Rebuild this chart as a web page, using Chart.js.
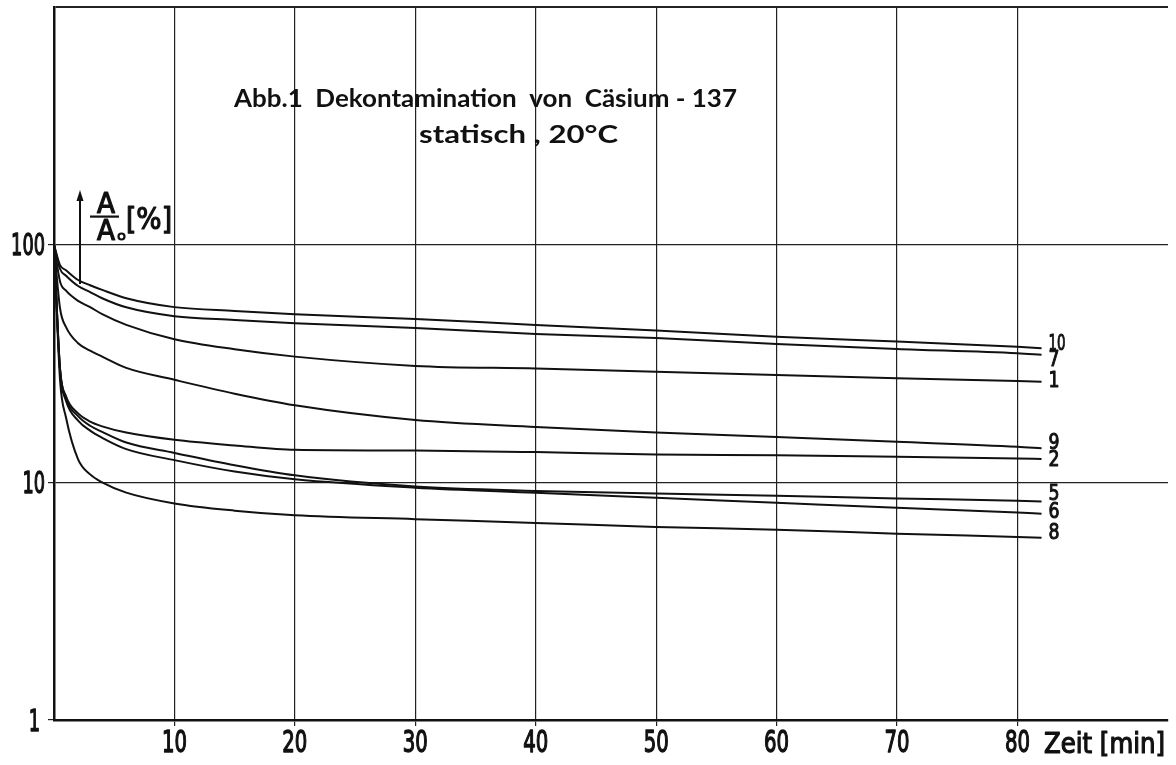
<!DOCTYPE html>
<html>
<head>
<meta charset="utf-8">
<title>Abb.1 Dekontamination von Cäsium-137</title>
<script src="https://cdn.jsdelivr.net/npm/chart.js@4.4.1/dist/chart.umd.min.js"></script>
<style>
  html, body { margin: 0; padding: 0; background: #fff; }
  #wrap { width: 1176px; height: 765px; }
</style>
</head>
<body>
<div id="wrap"><canvas id="chart" width="1176" height="765"></canvas></div>
<script>
const TIMES = [0, 0.5, 1, 2, 3, 4, 6, 10, 15, 20, 30, 40, 50, 60, 70, 80, 82];

// A/A0 [%] per sample (curve numbers as in the original figure)
const CURVE_10 = [100, 82, 78, 71, 67.5, 64.5, 59.5, 54.6, 52.6, 51, 48.7, 45.9, 43.5, 41, 39.1, 37.2, 36.7];
const CURVE_7 = [100, 79, 74, 67, 63.2, 59.5, 54.5, 50, 48.2, 46.7, 44.6, 42.1, 40.5, 38.2, 36.4, 34.9, 34.4];
const CURVE_1 = [100, 70, 64, 58, 54.6, 51, 46, 40, 36.3, 33.8, 30.9, 30.1, 29.2, 28.3, 27.4, 26.7, 26.5];
const CURVE_9 = [100, 54, 45, 38.5, 35.8, 33.8, 30.3, 27, 23.6, 21.1, 18.3, 17.1, 16.2, 15.5, 14.8, 14.1, 13.9];
const CURVE_2 = [100, 30, 23, 19.5, 18, 17.2, 16.2, 15.1, 14.3, 13.7, 13.6, 13.4, 13.1, 13.0, 12.8, 12.6, 12.55];
const CURVE_5 = [100, 30, 22.5, 19, 17.3, 16.3, 14.7, 13.3, 11.8, 10.7, 9.6, 9.2, 8.98, 8.78, 8.55, 8.37, 8.3];
const CURVE_6 = [100, 29.5, 22, 18.2, 16.5, 15.4, 13.8, 12.4, 11.1, 10.3, 9.5, 9.04, 8.61, 8.2, 7.81, 7.46, 7.38];
const CURVE_8 = [100, 27, 18.7, 12.5, 10.8, 10.0, 9.05, 8.15, 7.6, 7.27, 7.0, 6.75, 6.49, 6.32, 6.08, 5.89, 5.85];

const SERIES = [
  { name: "10", values: CURVE_10 },
  { name: "7", values: CURVE_7 },
  { name: "1", values: CURVE_1 },
  { name: "9", values: CURVE_9 },
  { name: "2", values: CURVE_2 },
  { name: "5", values: CURVE_5 },
  { name: "6", values: CURVE_6 },
  { name: "8", values: CURVE_8 },
];

const X_TICKS = [10, 20, 30, 40, 50, 60, 70, 80];
const Y_TICKS = [1, 10, 100, 1000];
const Y_LABELS = ["1", "10", "100", ""];

const TITLE_LINES = ["Abb.1  Dekontamination  von  Cäsium - 137", "statisch , 20°C"];
const X_TITLE = "Zeit [min]";

// small vertical nudges (px) so the end labels sit like in the original
const LABEL_NUDGE = [-4, 5, 0, -5, 1, -7, -1, -4];

const COND = '"DejaVu Sans Condensed", "DejaVu Sans", sans-serif';
const INK = "#111";

// draws text squeezed/stretched to a given width; align: 0 left, 0.5 centre, 1 right
// heavy > 0 adds an outline so the squeezed glyphs keep the stroke weight of the lettering
function fitText(ctx, text, x, y, width, align, heavy) {
  const w = ctx.measureText(text).width;
  if (!w) return;
  const k = width ? width / w : 1;
  ctx.save();
  ctx.translate(x - (align || 0) * w * k, y);
  ctx.scale(k, 1);
  ctx.textAlign = "left";
  ctx.fillText(text, 0, 0);
  if (heavy) {
    ctx.lineWidth = heavy;
    ctx.lineJoin = "round";
    ctx.strokeText(text, 0, 0);
  }
  ctx.restore();
}

const annotations = {
  id: "annotations",
  afterDraw(chart) {
    const ctx = chart.ctx;
    const xs = chart.scales.x;
    const ys = chart.scales.y;
    ctx.save();
    ctx.fillStyle = INK;
    ctx.strokeStyle = INK;
    ctx.textBaseline = "alphabetic";

    // tick labels (tall, narrow digits as in the original lettering)
    ctx.font = "30px " + COND;
    xs.ticks.forEach((t) => {
      const s = String(t.value);
      fitText(ctx, s, xs.getPixelForValue(t.value), 752, s.length * 12.5, 0.5, 1.3);
    });
    ys.ticks.forEach((t) => {
      const s = Y_LABELS[Y_TICKS.indexOf(t.value)] || "";
      if (!s) return;
      const right = s.length === 1 ? 40 : 45;
      fitText(ctx, s, right, ys.getPixelForValue(t.value) + 10.5, s.length * 11.3, 1, 1.3);
    });

    // title
    ctx.font = "bold 25px Lato, 'DejaVu Sans', sans-serif";
    fitText(ctx, TITLE_LINES[0], 234, 107, 503);
    fitText(ctx, TITLE_LINES[1], 419, 143, 199);

    // y quantity: arrow + A/A0 [%]
    ctx.lineWidth = 2;
    ctx.beginPath();
    ctx.moveTo(80, 284);
    ctx.lineTo(80, 198);
    ctx.stroke();
    ctx.beginPath();
    ctx.moveTo(80, 190);
    ctx.lineTo(76.5, 201);
    ctx.lineTo(83.5, 201);
    ctx.closePath();
    ctx.fill();

    ctx.font = "28px " + COND;
    fitText(ctx, "A", 97, 213, 18, 0, 1.2);
    ctx.fillRect(90, 215.5, 29, 2.2);
    fitText(ctx, "A", 97, 240, 18, 0, 1.2);
    ctx.lineWidth = 2.2;
    ctx.beginPath();
    ctx.arc(121.5, 236.5, 3, 0, Math.PI * 2);
    ctx.stroke();
    ctx.font = "31px " + COND;
    fitText(ctx, "[%]", 126, 229, 46, 0, 1.2);

    // x title next to the 80 tick
    ctx.font = "29px " + COND;
    fitText(ctx, X_TITLE, 1044, 753, 121, 0, 1.2);

    // curve numbers at the line ends
    ctx.font = "22px " + COND;
    ctx.textBaseline = "middle";
    SERIES.forEach((s, i) => {
      const last = s.values.length - 1;
      const px = xs.getPixelForValue(TIMES[last]) + 7;
      const py = ys.getPixelForValue(s.values[last]) + LABEL_NUDGE[i];
      fitText(ctx, s.name, px, py, s.name.length === 1 ? 11 : 17, 0, 1);
    });
    ctx.restore();
  },
};

const datasets = SERIES.map((s) => ({
  label: s.name,
  data: TIMES.map((t, i) => ({ x: t, y: s.values[i] })),
  borderColor: INK,
  borderWidth: 2,
  pointRadius: 0,
  fill: false,
  cubicInterpolationMode: "monotone",
}));

new Chart(document.getElementById("chart"), {
  type: "line",
  data: { datasets },
  plugins: [annotations],
  options: {
    responsive: false,
    animation: false,
    devicePixelRatio: 1,
    layout: { padding: { top: 7, right: 8, left: 0, bottom: 0 } },
    plugins: {
      legend: { display: false },
      tooltip: { enabled: false },
      title: { display: false },
    },
    scales: {
      x: {
        type: "linear",
        min: 0,
        max: 92.5,
        afterFit: (s) => { s.height = 45; },
        afterBuildTicks: (s) => { s.ticks = X_TICKS.map((v) => ({ value: v })); },
        border: { display: true, color: INK, width: 2.5 },
        grid: { color: "#222", lineWidth: 1.2, tickLength: 6 },
        ticks: { display: false, autoSkip: false },
      },
      y: {
        type: "logarithmic",
        min: 1,
        max: 1000,
        afterFit: (s) => { s.width = 54; },
        afterBuildTicks: (s) => { s.ticks = Y_TICKS.map((v) => ({ value: v })); },
        border: { display: true, color: INK, width: 2.5 },
        grid: {
          color: "#222",
          lineWidth: (c) => (c.tick && c.tick.value === 1000 ? 2 : 1.2),
          tickLength: 6,
          tickColor: (c) => (c.tick && c.tick.value === 1000 ? "rgba(0,0,0,0)" : "#222"),
        },
        ticks: { display: false, autoSkip: false },
      },
    },
  },
});
</script>
</body>
</html>
